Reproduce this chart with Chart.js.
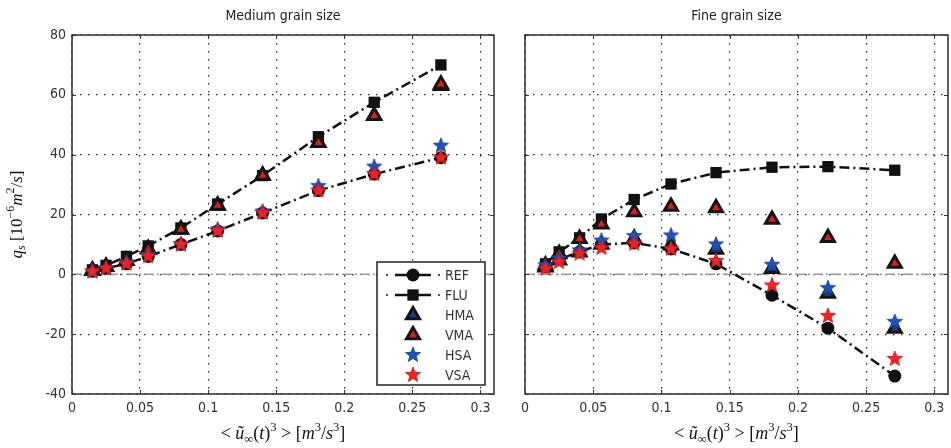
<!DOCTYPE html>
<html>
<head>
<meta charset="utf-8">
<script src="https://cdn.jsdelivr.net/npm/chart.js@4.4.1/dist/chart.umd.min.js"></script>
<style>
  body { margin: 0; background: #fff; }
  #wrap { position: relative; width: 951px; height: 448px; }
  #medium { position: absolute; left: 0; top: 0; width: 500px; height: 448px; }
  #fine { position: absolute; left: 500px; top: 0; width: 451px; height: 448px; }
</style>
</head>
<body>
<div id="wrap">
  <canvas id="medium" width="500" height="448"></canvas>
  <canvas id="fine" width="451" height="448"></canvas>
</div>
<script>
// forcing <u^3> for every run
const forcing = [0.015, 0.025, 0.04, 0.056, 0.08, 0.107, 0.14, 0.181, 0.222, 0.271];
const xMax = 0.31;
const xTicks = [0, 0.05, 0.1, 0.15, 0.2, 0.25, 0.3];
const xTickLabels = ['0', '0.05', '0.1', '0.15', '0.2', '0.25', '0.3'];
const yTicks = [-40, -20, 0, 20, 40, 60, 80];

// medium grain size, q_s in 1e-6 m2/s
const medREF = [1, 2, 3.5, 6, 10, 14.5, 20.5, 28, 33.5, 39];
const medFLU = [1.5, 3, 6, 9.5, 15.5, 23.5, 33, 46, 57.5, 70];
const medHMA = [1.3, 2.5, 4.5, 8.5, 15, 23, 33, 44, 53, 63];
const medVMA = [1.3, 2.5, 4.5, 8.5, 15, 23, 33, 44, 53, 63.5];
const medHSA = [1, 2, 4, 6.5, 10, 15, 21, 29.5, 36, 43];
const medVSA = [1, 2, 3.5, 6, 10, 14.5, 20.5, 28, 33.5, 39];

// fine grain size
const fineREF = [2.5, 5, 7.5, 10, 10.5, 8.5, 3.5, -7, -18, -34];
const fineFLU = [3.5, 7.5, 12.2, 18.5, 25, 30.2, 34, 35.8, 36, 34.8];
const fineHMA = [2.4, 4.7, 7.4, 10, 11.9, 9.7, 8.3, 1.9, -6.4, -18.1];
const fineVMA = [3, 6.9, 11.9, 16.7, 20.8, 22.7, 22.2, 18.3, 12.2, 3.6];
const fineHSA = [3, 5.3, 8, 11.3, 12.8, 13, 10, 3.2, -4.6, -15.9];
const fineVSA = [1.9, 4.1, 6.9, 8.8, 10.2, 8.5, 4.5, -3.7, -13.9, -28.3];

const sansFamily = "'DejaVu Sans Condensed', 'Liberation Sans Narrow', 'DejaVu Sans', sans-serif";
const serifFamily = "'Liberation Serif', 'DejaVu Serif', serif";

function starImage(fill, edge) {
  const R = 8, r = 3.4, size = 20;
  const c = document.createElement('canvas');
  c.width = size; c.height = size;
  const g = c.getContext('2d');
  g.beginPath();
  for (let k = 0; k < 10; k++) {
    const rad = k % 2 === 0 ? R : r;
    const a = -Math.PI / 2 + k * Math.PI / 5;
    const px = size / 2 + rad * Math.cos(a), py = size / 2 + rad * Math.sin(a);
    if (k === 0) g.moveTo(px, py); else g.lineTo(px, py);
  }
  g.closePath();
  g.fillStyle = fill; g.fill();
  g.strokeStyle = edge; g.lineWidth = 0.8; g.stroke();
  return c;
}
const blueStar = starImage('#2350b4', '#1a3f8f');
const redStar = starImage('#ee2424', '#c81818');

const pts = ys => ys.map((y, i) => ({ x: forcing[i], y: y }));

function makeSets(ref, flu, hma, vma, hsa, vsa) {
  return [
    { label: 'REF', data: pts(ref), showLine: true, borderColor: '#111', borderWidth: 2.5,
      borderDash: [10, 4, 2, 4], pointStyle: 'circle', pointRadius: 6.5,
      pointBackgroundColor: '#111', pointBorderColor: '#111', pointBorderWidth: 0, order: 6 },
    { label: 'FLU', data: pts(flu), showLine: true, borderColor: '#111', borderWidth: 2.5,
      borderDash: [10, 4, 2, 4], pointStyle: 'rect', pointRadius: 8,
      pointBackgroundColor: '#111', pointBorderColor: '#111', pointBorderWidth: 0, order: 5 },
    { label: 'HMA', data: pts(hma), showLine: false, pointStyle: 'triangle', pointRadius: 7.5,
      pointBackgroundColor: '#1c3a8c', pointBorderColor: '#141414', pointBorderWidth: 3, order: 4 },
    { label: 'VMA', data: pts(vma), showLine: false, pointStyle: 'triangle', pointRadius: 7.5,
      pointBackgroundColor: '#d82020', pointBorderColor: '#141414', pointBorderWidth: 3, order: 3 },
    { label: 'HSA', data: pts(hsa), showLine: false, pointStyle: blueStar, pointRadius: 8, order: 2 },
    { label: 'VSA', data: pts(vsa), showLine: false, pointStyle: redStar, pointRadius: 8, order: 1 },
    { label: '', data: [{ x: 0, y: 0 }, { x: xMax, y: 0 }], showLine: true, borderColor: '#9a9a9a',
      borderWidth: 1.5, borderDash: [10, 3, 2, 3], pointRadius: 0, order: 10 }
  ];
}

// mathtext-like labels: [text, italic, 'sub'|'sup']
const xTitle = [['< '], ['ũ', 1], ['∞', 0, 'sub'], ['('], ['t', 1], [')'], ['3', 0, 'sup'],
  [' > ['], ['m', 1], ['3', 0, 'sup'], ['/'], ['s', 1], ['3', 0, 'sup'], [']']];
const yTitle = [['q', 1], ['s', 1, 'sub'], [' [10'], ['−6', 0, 'sup'], ['m', 1], ['2', 0, 'sup'],
  ['/'], ['s', 1], [']']];

function richText(ctx, parts, cx, cy, size) {
  const fontFor = p => {
    const sz = p[2] ? size * 0.7 : size;
    return (p[1] ? 'italic ' : '') + sz + 'px ' + serifFamily;
  };
  let total = 0;
  parts.forEach(p => { ctx.font = fontFor(p); total += ctx.measureText(p[0]).width; });
  let x = cx - total / 2;
  ctx.textBaseline = 'alphabetic';
  ctx.textAlign = 'left';
  parts.forEach(p => {
    ctx.font = fontFor(p);
    const dy = p[2] === 'sub' ? size * 0.22 : p[2] === 'sup' ? -size * 0.42 : 0;
    ctx.fillText(p[0], x, cy + size * 0.33 + dy);
    x += ctx.measureText(p[0]).width;
  });
}

const frame = {
  id: 'frame',
  afterDatasetsDraw(chart) {
    const { ctx, chartArea: a, scales } = chart;
    ctx.save();
    // inward tick marks on all four sides
    ctx.strokeStyle = '#333'; ctx.lineWidth = 1;
    ctx.beginPath();
    xTicks.forEach(v => {
      const px = Math.round(scales.x.getPixelForValue(v)) + 0.5;
      ctx.moveTo(px, a.bottom); ctx.lineTo(px, a.bottom - 4);
      ctx.moveTo(px, a.top); ctx.lineTo(px, a.top + 4);
    });
    yTicks.forEach(v => {
      const py = Math.round(scales.y.getPixelForValue(v)) + 0.5;
      ctx.moveTo(a.left, py); ctx.lineTo(a.left + 4, py);
      ctx.moveTo(a.right, py); ctx.lineTo(a.right - 4, py);
    });
    ctx.stroke();
    ctx.strokeStyle = '#3a3a3a'; ctx.lineWidth = 1.6;
    ctx.strokeRect(a.left, a.top, a.right - a.left, a.bottom - a.top);
    ctx.fillStyle = '#111';
    richText(ctx, xTitle, (a.left + a.right) / 2, 433, 18);
    if (chart.options.plugins.frame && chart.options.plugins.frame.yLabel) {
      ctx.translate(16, (a.top + a.bottom) / 2);
      ctx.rotate(-Math.PI / 2);
      richText(ctx, yTitle, 0, 0, 17);
    }
    ctx.restore();
  }
};

const boxLegend = {
  id: 'boxLegend',
  afterDraw(chart) {
    const { ctx, chartArea: a } = chart;
    const w = 108, h = 123;
    const x0 = a.right - 9 - w, y0 = a.bottom - 9 - h;
    ctx.save();
    ctx.fillStyle = '#fff';
    ctx.fillRect(x0, y0, w, h);
    ctx.strokeStyle = '#222'; ctx.lineWidth = 1.5;
    ctx.strokeRect(x0, y0, w, h);
    chart.data.datasets.filter(d => d.label).forEach((d, i) => {
      const y = y0 + 13 + i * 20, mx = x0 + 36;
      if (d.showLine) {
        ctx.strokeStyle = d.borderColor; ctx.lineWidth = 2.5;
        ctx.beginPath();
        ctx.moveTo(x0 + 18, y); ctx.lineTo(x0 + 54, y);
        ctx.stroke();
        ctx.fillStyle = '#555';
        ctx.fillRect(x0 + 9, y - 1, 2, 2);
        ctx.fillRect(x0 + 61, y - 1, 2, 2);
      }
      ctx.fillStyle = d.pointBackgroundColor || '#000';
      ctx.strokeStyle = d.pointBorderColor || '#000';
      ctx.lineWidth = d.pointBorderWidth || 0;
      Chart.helpers.drawPoint(ctx, {
        pointStyle: d.pointStyle, rotation: 0, radius: d.pointRadius,
        borderWidth: d.pointBorderWidth || 0
      }, mx, y);
      ctx.fillStyle = '#333';
      ctx.font = '14px ' + sansFamily;
      ctx.textAlign = 'left'; ctx.textBaseline = 'middle';
      ctx.fillText(d.label, x0 + 68, y + 1);
    });
    ctx.restore();
  }
};

function makeConfig(title, sets, yLabels, padRight, axisWidth, legend) {
  const tickFont = { family: sansFamily, size: 14 };
  return {
    type: 'scatter',
    data: { datasets: sets },
    options: {
      responsive: false,
      animation: false,
      layout: { autoPadding: false, padding: { top: 0, right: padRight, bottom: 0, left: 0 } },
      scales: {
        x: {
          type: 'linear', min: 0, max: xMax,
          afterBuildTicks: s => { s.ticks = xTicks.map(v => ({ value: v })); },
          afterFit: s => { s.height = 54; s.paddingLeft = 0; s.paddingRight = 0; },
          ticks: { callback: (v, i) => xTickLabels[i], font: tickFont, color: '#333',
                   padding: 6, maxRotation: 0, autoSkip: false },
          grid: { color: '#222', lineWidth: 1.2, drawTicks: false },
          border: { display: false, dash: [1.5, 6.5] }
        },
        y: {
          type: 'linear', min: -40, max: 80,
          afterBuildTicks: s => { s.ticks = yTicks.map(v => ({ value: v })); },
          afterFit: s => { s.width = axisWidth; },
          ticks: { display: yLabels, font: tickFont, color: '#333', padding: 6 },
          grid: { color: '#222', lineWidth: 1.2, drawTicks: false },
          border: { display: false, dash: [1.5, 6.5] }
        }
      },
      plugins: {
        legend: { display: false },
        tooltip: { enabled: false },
        title: {
          display: true, text: title, fullSize: false, color: '#222',
          font: { family: sansFamily, size: 14, weight: 'normal', lineHeight: 1.2 },
          padding: { top: 8, bottom: 10.2 }
        },
        frame: { yLabel: yLabels }
      }
    },
    plugins: legend ? [frame, boxLegend] : [frame]
  };
}

new Chart(document.getElementById('medium'),
  makeConfig('Medium grain size', makeSets(medREF, medFLU, medHMA, medVMA, medHSA, medVSA), true, 6, 72, true));
new Chart(document.getElementById('fine'),
  makeConfig('Fine grain size', makeSets(fineREF, fineFLU, fineHMA, fineVMA, fineHSA, fineVSA), false, 3, 25, false));
</script>
</body>
</html>
